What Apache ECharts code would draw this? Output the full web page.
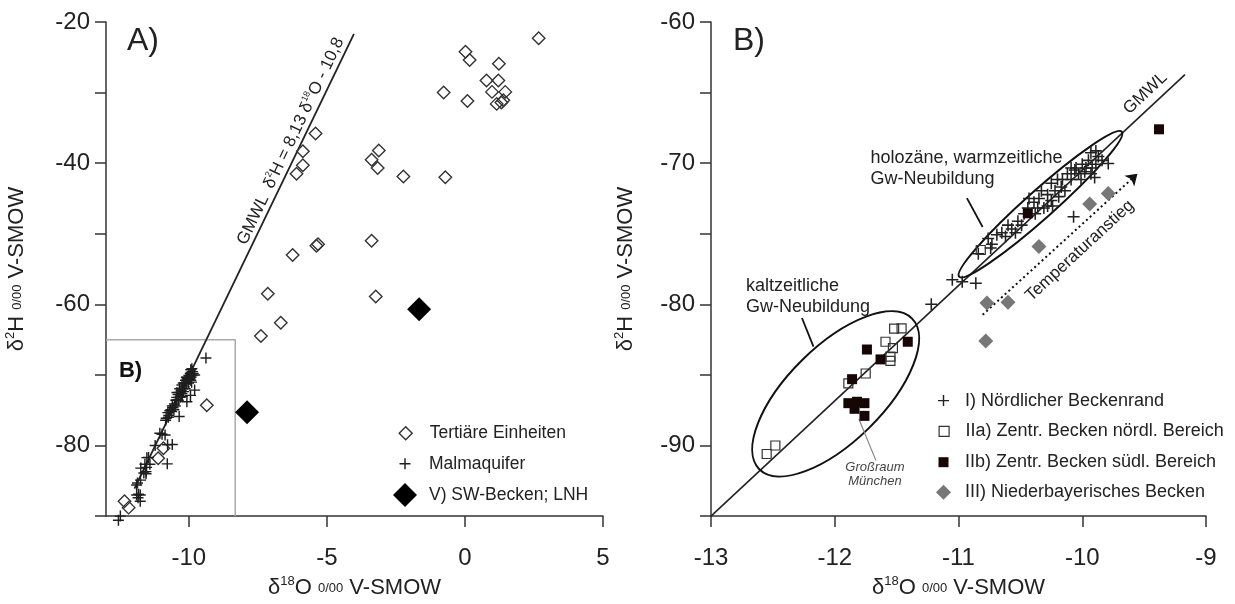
<!DOCTYPE html>
<html><head><meta charset="utf-8">
<script src="https://cdn.jsdelivr.net/npm/echarts@6/dist/echarts.min.js"></script>
<style>html,body{margin:0;padding:0;background:#fff}#c{width:1235px;height:604px}</style>
</head><body><div id="c"></div>
<script>
// ---------- Panel A data ----------
const tertiaerA = [[2.67,-22.3],[0.02,-24.2],[0.17,-25.4],[1.23,-25.9],[0.78,-28.3],[1.21,-28.3],[-0.77,-30.0],[0.09,-31.2],[0.98,-29.9],[1.46,-29.9],[1.15,-31.6],[1.39,-31.1],[1.32,-31.4],[-5.41,-35.8],[-5.87,-38.3],[-5.87,-40.3],[-6.10,-41.5],[-3.12,-38.2],[-3.38,-39.5],[-3.16,-40.7],[-2.23,-41.9],[-0.71,-42.0],[-3.38,-51.0],[-5.38,-51.7],[-5.32,-51.5],[-6.24,-53.0],[-7.14,-58.5],[-3.23,-58.9],[-6.67,-62.6],[-7.39,-64.5],[-9.35,-74.3],[-10.92,-80.4],[-11.11,-81.8],[-12.33,-87.9],[-12.18,-88.8]];
const swBeckenA = [[-7.89,-75.3],[-1.66,-60.7]];
const gmwlA = [[-11.97,-86.1],[-4.02,-21.67]];
const insetBoxA = [[-13,-65],[-8.32,-65],[-8.32,-90]];
const xTicksA = [-10,-5,0,5];
const yLabelsA = [-20,-40,-60,-80];

// ---------- Panel B data ----------
const nordB = [[-11.05,-78.26],[-10.97,-78.4],[-10.86,-78.5],[-11.22,-80.0],[-10.84,-76.42],[-10.74,-76.01],[-10.69,-75.07],[-10.65,-74.93],[-10.57,-74.66],[-10.52,-74.12],[-10.49,-74.39],[-10.44,-73.18],[-10.39,-72.77],[-10.35,-72.5],[-10.33,-71.96],[-10.28,-72.23],[-10.25,-72.64],[-10.24,-73.04],[-10.2,-71.15],[-10.17,-71.69],[-10.12,-70.75],[-10.09,-70.34],[-10.06,-70.48],[-10.03,-70.75],[-10.0,-70.07],[-9.95,-69.8],[-9.92,-70.34],[-9.89,-69.13],[-9.87,-69.53],[-9.79,-70.02],[-9.9,-71.02],[-10.07,-73.8],[-10.38,-73.58],[-10.31,-73.18],[-10.28,-73.04],[-10.22,-71.96],[-10.25,-71.42],[-10.19,-72.37],[-10.16,-71.15],[-10.14,-71.96],[-10.09,-71.15],[-10.05,-70.34],[-10.01,-71.15],[-9.98,-70.61],[-9.97,-70.34],[-9.93,-70.75],[-10.43,-72.5],[-10.36,-73.18],[-10.47,-73.58],[-10.6,-74.39],[-10.62,-75.2],[-10.76,-75.34],[-10.73,-75.74],[-10.54,-74.93],[-9.89,-70.07],[-9.84,-69.8],[-9.93,-69.26]];
const zentrNordB = [[-12.55,-90.6],[-12.48,-90.0],[-11.89,-85.6],[-11.75,-84.9],[-11.59,-82.65],[-11.52,-81.72],[-11.46,-81.7],[-11.53,-83.1],[-11.55,-83.7],[-11.55,-84.0],[-10.82,-76.15]];
const zentrSuedB = [[-11.74,-83.2],[-11.41,-82.65],[-11.63,-83.9],[-11.86,-85.3],[-11.89,-87.0],[-11.82,-86.9],[-11.76,-87.0],[-11.84,-87.4],[-11.76,-87.9],[-10.44,-73.55],[-9.38,-67.6]];
const niederB = [[-10.77,-79.9],[-10.60,-79.85],[-10.78,-82.6],[-10.35,-75.9],[-9.94,-72.9],[-9.79,-72.15]];
const gmwlB = [[-13,-95],[-9.17,-63.73]];
// ellipse: tip1 x,y, tip2 x,y, minor/major ratio
const ellipsesB = [[-12.61,-91.68,-11.375,-81.01,0.444],[-10.995,-78.04,-9.68,-67.78,0.128]];
const pointersB = [[[-10.932,-72.48],[-10.805,-74.52]],[[-12.265,-80.97],[-12.172,-83.0]]];
const grayPointerB = [[-11.805,-88.12],[-11.667,-91.07]];
const tempArrowB = [[-10.805,-80.74],[-9.554,-70.75]];
const yLabelsB = [-60,-70,-80,-90];

// Malmaquifer in panel A = all groundwater samples of panel B
const malmA = nordB.concat(zentrNordB, zentrSuedB, niederB);

const FONT = "'Liberation Sans', Arial, Helvetica, sans-serif";
const TXT = '#222';
const AX = '#333';
const plusPath = 'path://M4.35,0H5.65V4.35H10V5.65H5.65V10H4.35V5.65H0V4.35H4.35Z';

const subRich = {
  t: {fontSize: 22, fontFamily: FONT, color: TXT, lineHeight: 26},
  s: {fontSize: 13, fontFamily: FONT, color: TXT, verticalAlign: 'top', lineHeight: 26},
  p: {fontSize: 13, fontFamily: FONT, color: TXT, lineHeight: 26}
};
const xName = '{t|δ}{s|18}{t|O }{p|0/00}{t| V-SMOW}';
const yName = '{t|δ}{s|2}{t|H }{p|0/00}{t| V-SMOW}';

function axisCommon() {
  return {
    axisLine: {show: true, onZero: false, lineStyle: {color: AX, width: 1.5}},
    axisTick: {show: true, inside: false, length: 11, lineStyle: {color: AX, width: 1.5}},
    splitLine: {show: false},
    axisLabel: {fontSize: 24, color: TXT, fontFamily: FONT},
    nameTextStyle: {rich: subRich}
  };
}

const xA = Object.assign(axisCommon(), {
  type: 'value', gridIndex: 0, min: -13, max: 5,
  name: xName, nameLocation: 'middle', nameGap: 54
});
xA.axisTick.customValues = xTicksA;
xA.axisLabel.customValues = xTicksA;
xA.axisLabel.margin = 30;

const yA = Object.assign(axisCommon(), {
  type: 'value', gridIndex: 0, min: -90, max: -20, interval: 10,
  name: yName, nameLocation: 'middle', nameGap: 76
});
yA.axisLabel.formatter = v => yLabelsA.indexOf(v) >= 0 ? String(v) : '';
yA.axisLabel.margin = 16;

const xB = Object.assign(axisCommon(), {
  type: 'value', gridIndex: 1, min: -13, max: -9, interval: 1,
  name: xName, nameLocation: 'middle', nameGap: 54
});
xB.axisLabel.margin = 30;

const yB = Object.assign(axisCommon(), {
  type: 'value', gridIndex: 1, min: -95, max: -60, interval: 5,
  name: yName, nameLocation: 'middle', nameGap: 72
});
yB.axisLabel.formatter = v => yLabelsB.indexOf(v) >= 0 ? String(v) : '';
yB.axisLabel.margin = 16;

function labelSeries(xi, items) {
  items.forEach(it => {
    it.label = Object.assign({color: TXT, textBorderWidth: 0, fontFamily: FONT, opacity: 1}, it.label);
  });
  return {
    type: 'scatter', xAxisIndex: xi, yAxisIndex: xi, symbolSize: 1, z: 20, silent: true,
    itemStyle: {color: 'rgba(0,0,0,0)', opacity: 1},
    label: {show: true, fontFamily: FONT, color: TXT, textBorderWidth: 0, opacity: 1},
    data: items
  };
}
function centered(extra) {
  return Object.assign({position: [0.5, 0.5], align: 'center', verticalAlign: 'middle'}, extra);
}

function legendItem(name, centerX, textX, centerY, size, fs, style) {
  const left = centerX - size / 2;
  const pad = textX - (left + size + 5);
  const h = Math.max(size, fs);
  return {
    data: [name], left: left, top: centerY - h / 2, orient: 'horizontal', padding: 0,
    itemWidth: size, itemHeight: size, selectedMode: false,
    textStyle: {fontSize: fs, color: TXT, fontFamily: FONT, padding: [0, 0, 0, pad]},
    itemStyle: Object.assign({opacity: 1}, style || {})
  };
}

const chart = echarts.init(document.getElementById('c'), null, {renderer: 'canvas'});
chart.setOption({
  animation: false,
  backgroundColor: '#fff',
  textStyle: {fontFamily: FONT},
  title: [
    {text: 'A)', left: 127, top: 25, padding: 0, textStyle: {fontSize: 32, fontWeight: 'normal', color: TXT, fontFamily: FONT}},
    {text: 'B)', left: 733, top: 25, padding: 0, textStyle: {fontSize: 32, fontWeight: 'normal', color: TXT, fontFamily: FONT}}
  ],
  grid: [
    {left: 106, top: 22, width: 497, height: 499},
    {left: 711, top: 22, width: 495, height: 499}
  ],
  xAxis: [xA, xB],
  yAxis: [yA, yB],
  legend: [
    legendItem('Tertiäre Einheiten', 405, 429, 433, 13, 17.5, {borderWidth: 1.4}),
    legendItem('Malmaquifer', 405, 429, 463.5, 11, 17.5, {borderWidth: 0}),
    legendItem('V) SW-Becken; LNH', 405, 429, 495, 24, 17.5, {borderWidth: 0}),
    legendItem('I) Nördlicher Beckenrand', 943.5, 965, 400.6, 11, 18, {borderWidth: 0}),
    legendItem('IIa) Zentr. Becken nördl. Bereich', 943.5, 965, 431.4, 10, 18, {borderWidth: 1.2}),
    legendItem('IIb) Zentr. Becken südl. Bereich', 943.5, 965, 462.2, 10, 18, {borderWidth: 0}),
    legendItem('III) Niederbayerisches Becken', 943.5, 965, 492.3, 15, 18, {borderWidth: 0})
  ],
  series: [
    // ---- Panel A ----
    {type: 'line', xAxisIndex: 0, yAxisIndex: 0, data: insetBoxA, symbol: 'none', silent: true, z: 1,
     lineStyle: {color: '#aaa', width: 1.5}},
    {type: 'line', xAxisIndex: 0, yAxisIndex: 0, data: gmwlA, symbol: 'none', silent: true, z: 2,
     lineStyle: {color: '#222', width: 1.8}},
    {name: 'Tertiäre Einheiten', type: 'scatter', xAxisIndex: 0, yAxisIndex: 0, data: tertiaerA,
     symbol: 'diamond', symbolSize: 12.5, z: 5,
     itemStyle: {color: 'rgba(255,255,255,0)', borderColor: '#333', borderWidth: 1.4, opacity: 1}},
    {name: 'Malmaquifer', type: 'scatter', xAxisIndex: 0, yAxisIndex: 0, data: malmA, clip: false,
     symbol: plusPath, symbolSize: 11, z: 5, itemStyle: {color: '#1e1e1e', opacity: 1}},
    {name: 'V) SW-Becken; LNH', type: 'scatter', xAxisIndex: 0, yAxisIndex: 0, data: swBeckenA,
     symbol: 'diamond', symbolSize: 24, z: 6, itemStyle: {color: '#000', opacity: 1}},
    labelSeries(0, [
      {value: [-6.31, -36.9], label: centered({rotate: 64.45,
        formatter: '{t|GMWL  δ}{s|2}{t|H = 8,13 δ}{s|18}{t|O - 10,8}',
        rich: {t: {fontSize: 17, color: TXT, fontFamily: FONT, lineHeight: 20},
               s: {fontSize: 9, color: TXT, fontFamily: FONT, verticalAlign: 'top', lineHeight: 20}}})},
      {value: [-12.11, -69.4], label: centered({formatter: 'B)', fontSize: 22, fontWeight: 'bold', color: '#111'})}
    ]),
    // ---- Panel B ----
    {type: 'line', xAxisIndex: 1, yAxisIndex: 1, data: gmwlB, symbol: 'none', silent: true, z: 2,
     lineStyle: {color: '#222', width: 1.6}},
    {type: 'custom', xAxisIndex: 1, yAxisIndex: 1, data: ellipsesB, silent: true, z: 3,
     encode: {x: [0, 2], y: [1, 3]},
     renderItem: function (params, api) {
       const p1 = api.coord([api.value(0), api.value(1)]);
       const p2 = api.coord([api.value(2), api.value(3)]);
       const dx = p2[0] - p1[0], dy = p2[1] - p1[1];
       const a = Math.sqrt(dx * dx + dy * dy) / 2;
       const b = a * api.value(4);
       return {
         type: 'ellipse', x: (p1[0] + p2[0]) / 2, y: (p1[1] + p2[1]) / 2,
         rotation: Math.atan2(-dy, dx),
         shape: {cx: 0, cy: 0, rx: a, ry: b},
         style: {fill: 'none', stroke: '#111', lineWidth: 2}
       };
     }},
    {type: 'lines', coordinateSystem: 'cartesian2d', xAxisIndex: 1, yAxisIndex: 1, silent: true, z: 3,
     data: pointersB.map(c => ({coords: c})), lineStyle: {color: '#111', width: 1.8, opacity: 1}},
    {type: 'lines', coordinateSystem: 'cartesian2d', xAxisIndex: 1, yAxisIndex: 1, silent: true, z: 3,
     data: [{coords: grayPointerB}], lineStyle: {color: '#888', width: 1.2, opacity: 1}},
    {type: 'lines', coordinateSystem: 'cartesian2d', xAxisIndex: 1, yAxisIndex: 1, silent: true, z: 3,
     data: [{coords: tempArrowB}], symbol: ['none', 'arrow'], symbolSize: 11,
     lineStyle: {color: '#111', width: 2, type: [2, 3], opacity: 1}},
    {name: 'I) Nördlicher Beckenrand', type: 'scatter', xAxisIndex: 1, yAxisIndex: 1, data: nordB,
     symbol: plusPath, symbolSize: 12, z: 5, itemStyle: {color: '#222', opacity: 1}},
    {name: 'IIa) Zentr. Becken nördl. Bereich', type: 'scatter', xAxisIndex: 1, yAxisIndex: 1, data: zentrNordB,
     symbol: 'rect', symbolSize: 9, z: 6,
     itemStyle: {color: 'rgba(255,255,255,0)', borderColor: '#333', borderWidth: 1.2, opacity: 1}},
    {name: 'IIb) Zentr. Becken südl. Bereich', type: 'scatter', xAxisIndex: 1, yAxisIndex: 1, data: zentrSuedB,
     symbol: 'rect', symbolSize: 10, z: 6, itemStyle: {color: '#160606', opacity: 1}},
    {name: 'III) Niederbayerisches Becken', type: 'scatter', xAxisIndex: 1, yAxisIndex: 1, data: niederB,
     symbol: 'diamond', symbolSize: 15, z: 6, itemStyle: {color: '#777', opacity: 1}},
    labelSeries(1, [
      {value: [-11.716, -70.41], label: {position: 'right', distance: 0, formatter: 'holozäne, warmzeitliche\nGw-Neubildung', fontSize: 18, lineHeight: 21}},
      {value: [-12.721, -79.46], label: {position: 'right', distance: 0, formatter: 'kaltzeitliche\nGw-Neubildung', fontSize: 18, lineHeight: 21}},
      {value: [-11.675, -92.08], label: centered({formatter: 'Großraum\nMünchen', fontSize: 13, lineHeight: 14, fontStyle: 'italic', color: '#444'})},
      {value: [-9.49, -65.05], label: centered({formatter: 'GMWL', fontSize: 17, rotate: 43.3})},
      {value: [-10.02, -76.2], label: centered({formatter: 'Temperaturanstieg', fontSize: 17, rotate: 42.6})}
    ])
  ]
});
</script>
</body></html>
